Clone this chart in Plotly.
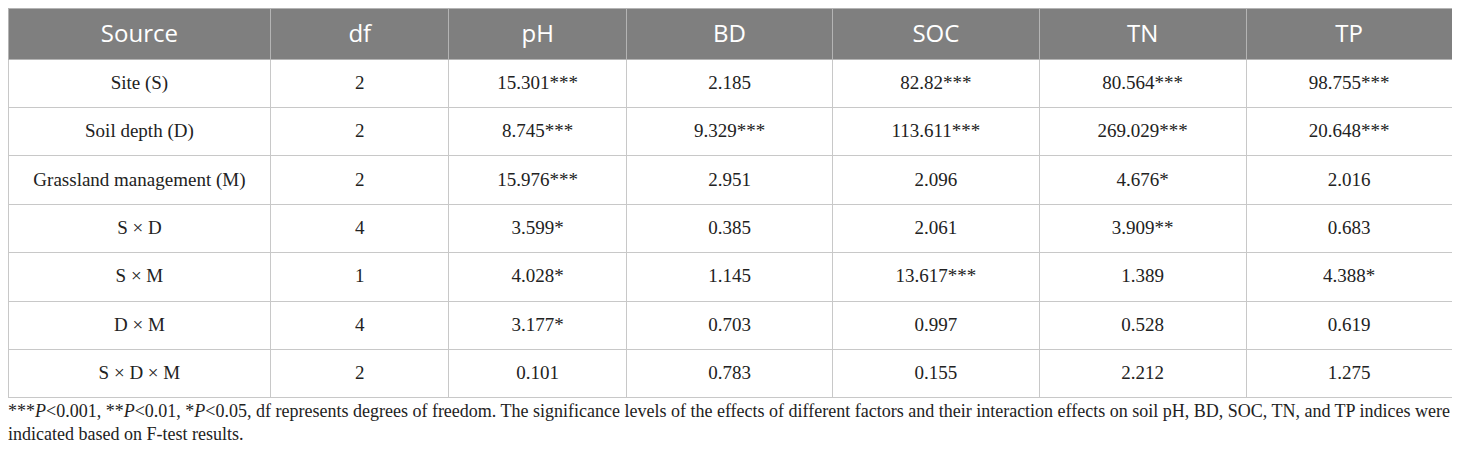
import plotly.graph_objects as go

# column headers
headers = ['Source', 'df', 'pH', 'BD', 'SOC', 'TN', 'TP']

# table body, one list per column
sources = ['Site (S)', 'Soil depth (D)', 'Grassland management (M)',
           'S \u00d7 D', 'S \u00d7 M', 'D \u00d7 M', 'S \u00d7 D \u00d7 M']
df_vals = ['2', '2', '2', '4', '1', '4', '2']
ph_vals = ['15.301***', '8.745***', '15.976***', '3.599*', '4.028*', '3.177*', '0.101']
bd_vals = ['2.185', '9.329***', '2.951', '0.385', '1.145', '0.703', '0.783']
soc_vals = ['82.82***', '113.611***', '2.096', '2.061', '13.617***', '0.997', '0.155']
tn_vals = ['80.564***', '269.029***', '4.676*', '3.909**', '1.389', '0.528', '2.212']
tp_vals = ['98.755***', '20.648***', '2.016', '0.683', '4.388*', '0.619', '1.275']

note = ('***<i>P</i><0.001, **<i>P</i><0.01, *<i>P</i><0.05, df represents degrees of freedom. '
        'The significance levels of the effects of different factors and their interaction effects '
        'on soil pH, BD, SOC, TN, and TP indices were<br>indicated based on F-test results.')

W, H = 1460, 454
col_w = [263, 178, 178, 206, 207, 207, 206]
head_h, row_h = 51, 48.4

body = [sources, df_vals, ph_vals, bd_vals, soc_vals, tn_vals, tp_vals]
blank_head = [''] * len(headers)
blank_body = [[''] * len(c) for c in body]

fig = go.Figure()

# grid: fills and lines only
fig.add_trace(go.Table(
    columnwidth=col_w,
    domain=dict(x=[0, 1444 / W], y=[0.02, 1]),
    header=dict(values=blank_head, fill_color='#7f7f7f', line_color='#b4b4b4',
                line_width=1, height=head_h),
    cells=dict(values=blank_body, fill_color='white', line_color='#c8c8c8',
               line_width=1, height=row_h),
))

# text: plotly puts cell text near the top of the cell, so this copy sits a
# few px lower to get the text into the middle of each cell
fig.add_trace(go.Table(
    columnwidth=col_w,
    domain=dict(x=[0, 1444 / W], y=[0.0, 1 - 7.5 / H]),
    header=dict(
        values=headers,
        fill_color='rgba(0,0,0,0)',
        line_color='rgba(0,0,0,0)',
        align='center',
        height=head_h,
        font=dict(family='Open Sans', size=24, color='white'),
    ),
    cells=dict(
        values=body,
        fill_color='rgba(0,0,0,0)',
        line_color='rgba(0,0,0,0)',
        align='center',
        height=row_h,
        font=dict(family='Liberation Serif', size=19, color='#222222'),
    ),
))

fig.add_annotation(
    text=note, xref='paper', yref='paper', x=-2 / W, y=1 - 391 / H,
    xanchor='left', yanchor='top', showarrow=False, align='left',
    font=dict(family='Liberation Serif', size=18, color='#222222'),
)

fig.update_layout(
    width=W, height=H,
    margin=dict(l=0, r=0, t=0, b=0),
    paper_bgcolor='white',
)

fig.write_html("out.html")
